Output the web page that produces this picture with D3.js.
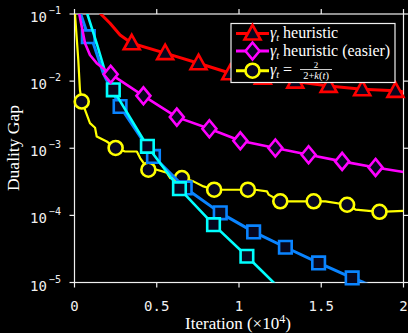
<!DOCTYPE html>
<html>
<head>
<meta charset="utf-8">
<script src="https://cdn.jsdelivr.net/npm/d3@7"></script>
<style>
  body { margin: 0; background: #000; }
  svg { display: block; }
</style>
</head>
<body>
<div id="chart"></div>
<script>
// canvas
var svgWidth = 408;
var svgHeight = 333;

// plot box (pixel edges of the axes)
var plotLeft = 74.5, plotRight = 403.5, plotTop = 14, plotBottom = 282.5;

var markerFill = '#06061e';

// --- data (iterations in units of 1e4, duality gap) ---
var xTicks = [0, 0.5, 1, 1.5, 2];
var xTickLabels = ['0', '0.5', '1', '1.5', '2'];
var yTicks = [1e-5, 1e-4, 1e-3, 1e-2, 1e-1];
var yTickExps = ['-5', '-4', '-3', '-2', '-1'];

// gamma_t heuristic (red triangles)
var iterRed = [0.137, 0.16, 0.216, 0.277, 0.348, 0.551, 0.754, 0.947, 1.145, 1.342, 1.545, 1.749, 1.951, 2.0];
var gapRed = [0.123, 0.1, 0.0727, 0.0487, 0.0366, 0.0261, 0.0185, 0.0131, 0.0112, 0.00984, 0.00849, 0.00758, 0.00716, 0.00692];
var markRed = [4, 5, 6, 7, 8, 9, 10, 11, 12];

// gamma_t heuristic (easier) (magenta diamonds)
var iterMag = [0.021, 0.029, 0.064, 0.094, 0.135, 0.22, 0.419, 0.622, 0.82, 1.008, 1.221, 1.423, 1.627, 1.83, 2.0];
var gapMag = [0.161, 0.1, 0.0366, 0.0245, 0.0185, 0.01268, 0.00604, 0.00291, 0.00195, 0.00129, 0.00101, 0.0008, 0.000637, 0.000518, 0.000442];
var markMag = [5, 6, 7, 8, 9, 10, 11, 12, 13];

// gamma_t = 2/(2+k(t)) (yellow circles)
var iterYel = [0.002, 0.003, 0.023, 0.033, 0.044, 0.064, 0.094, 0.125, 0.135, 0.196, 0.25, 0.307, 0.379, 0.399, 0.449, 0.5, 0.561, 0.581, 0.653, 0.723, 0.784, 0.849, 1.054, 1.099, 1.17, 1.18, 1.251, 1.454, 1.525, 1.657, 1.708, 1.854, 2.0];
var gapYel = [0.161, 0.1, 0.0207, 0.00741, 0.00497, 0.00373, 0.00237, 0.00202, 0.0015, 0.00126, 0.00101, 0.000895, 0.000895, 0.000714, 0.000479, 0.000479, 0.000433, 0.00036, 0.00036, 0.000321, 0.00027, 0.000241, 0.000241, 0.000241, 0.000228, 0.000204, 0.000162, 0.000162, 0.000162, 0.000144, 0.000122, 0.000113, 0.000117];
var markYel = [4, 10, 14, 18, 21, 22, 26, 27, 29, 31];

// blue squares (not in legend)
var iterBlue = [0.027, 0.038, 0.084, 0.114, 0.175, 0.277, 0.48, 0.673, 0.886, 1.089, 1.282, 1.484, 1.688, 1.758, 1.8];
var gapBlue = [0.161, 0.1, 0.0459, 0.0366, 0.0131, 0.00419, 0.000755, 0.000256, 0.000109, 5.67e-5, 3.35e-5, 1.96e-5, 1.17e-5, 1e-5, 9e-6];
var markBlue = [2, 5, 6, 7, 8, 9, 10, 11, 12];

// cyan squares (not in legend)
var iterCyan = [0.064, 0.078, 0.135, 0.186, 0.236, 0.443, 0.638, 0.845, 1.048, 1.21, 1.251];
var gapCyan = [0.161, 0.1, 0.0366, 0.01387, 0.00741, 0.00107, 0.00025, 7.28e-5, 2.46e-5, 1e-5, 7.9e-6];
var markCyan = [4, 5, 6, 7, 8];

var series = [
    { x: iterYel, y: gapYel, marks: markYel, color: '#ffff00', shape: 'circle', lw: 2.2 },
    { x: iterBlue, y: gapBlue, marks: markBlue, color: '#0a84ff', shape: 'square', lw: 3 },
    { x: iterCyan, y: gapCyan, marks: markCyan, color: '#00ffff', shape: 'square', lw: 2.6 },
    { x: iterMag, y: gapMag, marks: markMag, color: '#ff00ff', shape: 'diamond', lw: 2.6 },
    { x: iterRed, y: gapRed, marks: markRed, color: '#ff0000', shape: 'triangle', lw: 3 }
];

var xScale = d3.scaleLinear().domain([0, 2]).range([plotLeft, plotRight]);
var yScale = d3.scaleLog().domain([1e-5, 1e-1]).range([plotBottom, plotTop]);

// marker outlines centred on 0,0
function markerPath(shape) {
    if (shape == 'triangle') return 'M0,-8.5 L8,6 L-8,6 Z';
    if (shape == 'diamond') return 'M0,-8.5 L7,0 L0,8.5 L-7,0 Z';
    if (shape == 'square') return 'M-6.3,-6.3 L6.3,-6.3 L6.3,6.3 L-6.3,6.3 Z';
    return d3.arc()({ innerRadius: 0, outerRadius: 7, startAngle: 0, endAngle: 2 * Math.PI });
}

var svg = d3.select('#chart').append('svg')
    .attr('width', svgWidth)
    .attr('height', svgHeight)
    .style('background', '#000');

svg.append('defs').append('clipPath').attr('id', 'plotclip')
    .append('rect')
    .attr('x', plotLeft).attr('y', plotTop)
    .attr('width', plotRight - plotLeft).attr('height', plotBottom - plotTop);

// axes box + outward ticks
var axisColor = '#f0f0f0';
var box = svg.append('g');
box.append('rect')
    .attr('x', plotLeft).attr('y', plotTop)
    .attr('width', plotRight - plotLeft).attr('height', plotBottom - plotTop)
    .attr('fill', 'none').attr('stroke', axisColor).attr('stroke-width', 1.2);

xTicks.forEach(function (t) {
    box.append('line').attr('x1', xScale(t)).attr('x2', xScale(t))
        .attr('y1', plotBottom).attr('y2', plotBottom + 5).attr('stroke', axisColor).attr('stroke-width', 1.2);
    box.append('line').attr('x1', xScale(t)).attr('x2', xScale(t))
        .attr('y1', plotTop).attr('y2', plotTop - 5).attr('stroke', axisColor).attr('stroke-width', 1.2);
});
yTicks.forEach(function (t) {
    box.append('line').attr('x1', plotLeft).attr('x2', plotLeft - 5)
        .attr('y1', yScale(t)).attr('y2', yScale(t)).attr('stroke', axisColor).attr('stroke-width', 1.2);
    box.append('line').attr('x1', plotRight).attr('x2', plotRight + 5)
        .attr('y1', yScale(t)).attr('y2', yScale(t)).attr('stroke', axisColor).attr('stroke-width', 1.2);
});

// tick labels
svg.append('g').selectAll('text')
    .data(xTicks)
    .enter().append('text')
    .attr('x', d => xScale(d))
    .attr('y', 310.5)
    .attr('text-anchor', 'middle')
    .attr('fill', axisColor)
    .style('font-family', 'DejaVu Sans Mono')
    .style('font-size', '14px')
    .text((d, i) => xTickLabels[i]);

var yLab = svg.append('g').selectAll('text')
    .data(yTicks)
    .enter().append('text')
    .attr('x', 30)
    .attr('y', d => yScale(d) + 8)
    .attr('fill', axisColor)
    .style('font-family', 'DejaVu Sans Mono')
    .style('font-size', '14px');
yLab.append('tspan').text('10');
yLab.append('tspan')
    .attr('dx', 2)
    .attr('dy', -8)
    .style('font-size', '10px')
    .text((d, i) => yTickExps[i].replace('-', '\u2212'));

// axis titles
svg.append('text')
    .attr('x', 238)
    .attr('y', 329)
    .attr('text-anchor', 'middle')
    .attr('fill', '#fff')
    .style('font-family', 'Liberation Serif')
    .style('font-size', '17px')
    .html('Iteration (\u00d710<tspan dy="-6" font-size="12px">4</tspan><tspan dy="6">)</tspan>');

svg.append('text')
    .attr('transform', 'translate(19,148) rotate(-90)')
    .attr('text-anchor', 'middle')
    .attr('fill', '#fff')
    .style('font-family', 'Liberation Serif')
    .style('font-size', '17.5px')
    .text('Duality Gap');

// lines + markers
var plotG = svg.append('g');
var line = d3.line().x(d => xScale(d[0])).y(d => yScale(d[1]));

series.forEach(function (s) {
    var pts = s.x.map((v, i) => [v, s.y[i]]);
    plotG.append('path')
        .attr('clip-path', 'url(#plotclip)')
        .attr('d', line(pts))
        .attr('fill', 'none')
        .attr('stroke', s.color)
        .attr('stroke-width', s.lw)
        .attr('stroke-linejoin', 'round');
    plotG.selectAll(null)
        .data(s.marks.map(i => pts[i]))
        .enter().append('path')
        .attr('transform', d => `translate(${xScale(d[0])},${yScale(d[1])})`)
        .attr('d', markerPath(s.shape))
        .attr('fill', markerFill)
        .attr('stroke', s.color)
        .attr('stroke-width', 2.6)
        .attr('stroke-linejoin', 'miter');
});

// legend
var legendG = svg.append('g').attr('transform', 'translate(231,23.5)');
legendG.append('rect')
    .attr('width', 164).attr('height', 59)
    .attr('fill', '#000')
    .attr('stroke', '#f0f0f0')
    .attr('stroke-width', 1.2);

var legendRows = [
    { color: '#ff0000', shape: 'triangle', label: ' heuristic', y: 10 },
    { color: '#ff00ff', shape: 'diamond', label: ' heuristic (easier)', y: 27.5 },
    { color: '#ffff00', shape: 'circle', label: null, y: 47.2 }
];
legendRows.forEach(function (r) {
    legendG.append('line')
        .attr('x1', 5).attr('x2', 38)
        .attr('y1', r.y).attr('y2', r.y)
        .attr('stroke', r.color).attr('stroke-width', 3);
    legendG.append('path')
        .attr('transform', `translate(21.5,${r.y})`)
        .attr('d', markerPath(r.shape))
        .attr('fill', markerFill)
        .attr('stroke', r.color)
        .attr('stroke-width', 2.6);
    var t = legendG.append('text')
        .attr('x', 39)
        .attr('y', r.y + 4.5)
        .attr('fill', '#fff')
        .style('font-family', 'Liberation Serif')
        .style('font-size', '16px');
    t.append('tspan').style('font-style', 'italic').text('\u03b3');
    t.append('tspan').style('font-style', 'italic').style('font-size', '10px').attr('dy', 3).text('t');
    if (r.label) {
        t.append('tspan').attr('dy', -3).text(r.label);
    } else {
        t.append('tspan').attr('dy', -3).text(' =');
    }
});

// fraction 2 / (2+k(t))
var frac = legendG.append('g').attr('transform', 'translate(85,46)');
frac.append('text').attr('x', 0).attr('y', -2).attr('text-anchor', 'middle')
    .attr('fill', '#fff').style('font-family', 'Liberation Serif').style('font-size', '9px').text('2');
frac.append('line').attr('x1', -16).attr('x2', 16).attr('y1', 0).attr('y2', 0)
    .attr('stroke', '#fff').attr('stroke-width', 0.8);
var den = frac.append('text').attr('x', 0).attr('y', 9).attr('text-anchor', 'middle')
    .attr('fill', '#fff').style('font-family', 'Liberation Serif').style('font-size', '10.5px');
den.append('tspan').text('2+');
den.append('tspan').style('font-style', 'italic').text('k');
den.append('tspan').text('(');
den.append('tspan').style('font-style', 'italic').text('t');
den.append('tspan').text(')');
</script>
</body>
</html>
